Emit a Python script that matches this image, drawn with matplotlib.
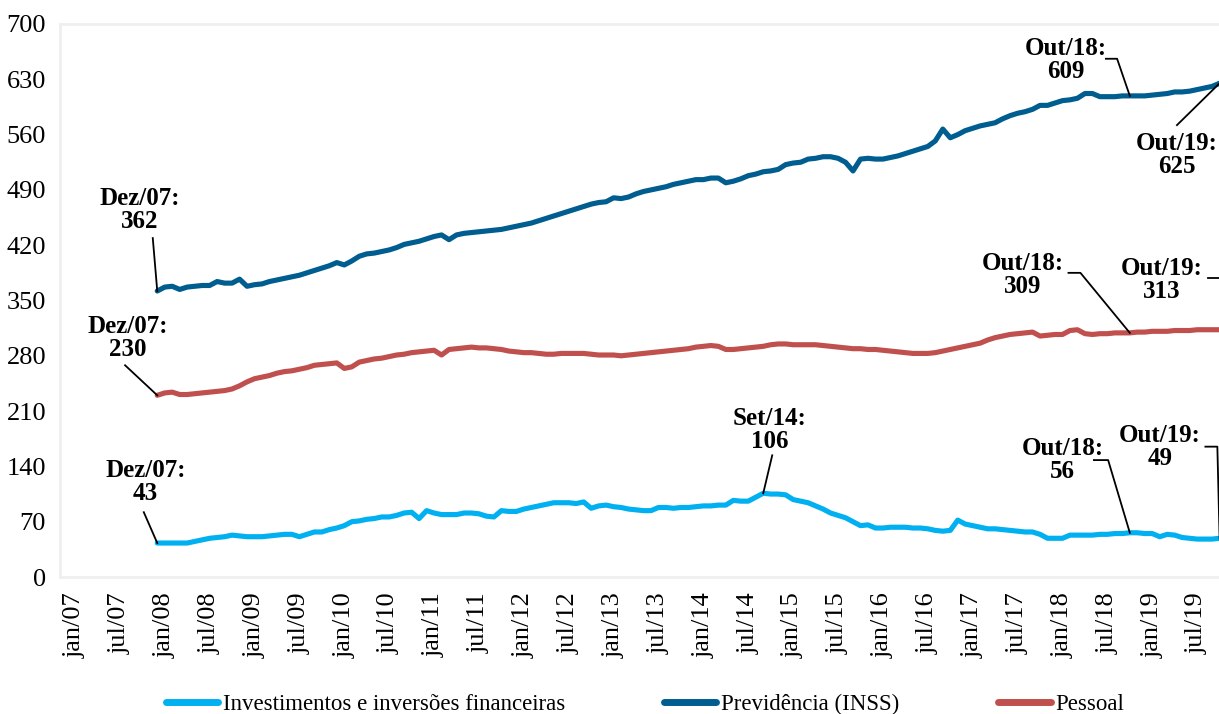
import matplotlib
matplotlib.use("Agg")
import matplotlib.pyplot as plt
import numpy as np

plt.rcParams['font.family'] = ['Liberation Serif', 'DejaVu Serif']

# despesa acumulada em 12 meses, R$ bilhões -- dez/07 a out/19
investimentos = [
    43, 43, 43, 43, 43, 45, 47, 49, 50, 51, 53, 52, 51, 51, 51, 52, 53, 54, 54, 51,
    54, 57, 57, 60, 62, 65, 70, 71, 73, 74, 76, 76, 78, 81, 82, 74, 84, 81, 79, 79,
    79, 81, 81, 80, 77, 76, 84, 83, 83, 86, 88, 90, 92, 94, 94, 94, 93, 95, 87, 90,
    91, 89, 88, 86, 85, 84, 84, 88, 88, 87, 88, 88, 89, 90, 90, 91, 91, 97, 96, 96,
    101, 106, 105, 105, 104, 98, 96, 94, 90, 86, 81, 78, 75, 70, 65, 66, 62, 62, 63, 63,
    63, 62, 62, 61, 59, 58, 59, 72, 67, 65, 63, 61, 61, 60, 59, 58, 57, 57, 54, 49,
    49, 49, 53, 53, 53, 53, 54, 54, 55, 55, 56, 56, 55, 55, 51, 54, 53, 50, 49, 48,
    48, 48, 49,
]
previdencia = [
    362, 367, 368, 364, 367, 368, 369, 369, 374, 372, 372, 377, 368, 370, 371, 374, 376, 378, 380, 382,
    385, 388, 391, 394, 398, 395, 400, 406, 409, 410, 412, 414, 417, 421, 423, 425, 428, 431, 433, 427,
    433, 435, 436, 437, 438, 439, 440, 442, 444, 446, 448, 451, 454, 457, 460, 463, 466, 469, 472, 474,
    475, 480, 479, 481, 485, 488, 490, 492, 494, 497, 499, 501, 503, 503, 505, 505, 499, 501, 504, 508,
    510, 513, 514, 516, 522, 524, 525, 529, 530, 532, 532, 530, 525, 514, 529, 530, 529, 529, 531, 533,
    536, 539, 542, 545, 552, 567, 556, 560, 565, 568, 571, 573, 575, 580, 584, 587, 589, 592, 597, 597,
    600, 603, 604, 606, 612, 612, 608, 608, 608, 609, 609, 609, 609, 610, 611, 612, 614, 614, 615, 617,
    619, 621, 625,
]
pessoal = [
    230, 233, 234, 231, 231, 232, 233, 234, 235, 236, 238, 242, 247, 251, 253, 255, 258, 260, 261, 263,
    265, 268, 269, 270, 271, 264, 266, 272, 274, 276, 277, 279, 281, 282, 284, 285, 286, 287, 281, 288,
    289, 290, 291, 290, 290, 289, 288, 286, 285, 284, 284, 283, 282, 282, 283, 283, 283, 283, 282, 281,
    281, 281, 280, 281, 282, 283, 284, 285, 286, 287, 288, 289, 291, 292, 293, 292, 288, 288, 289, 290,
    291, 292, 294, 295, 295, 294, 294, 294, 294, 293, 292, 291, 290, 289, 289, 288, 288, 287, 286, 285,
    284, 283, 283, 283, 284, 286, 288, 290, 292, 294, 296, 300, 303, 305, 307, 308, 309, 310, 305, 306,
    307, 307, 312, 313, 308, 307, 308, 308, 309, 309, 309, 310, 310, 311, 311, 311, 312, 312, 312, 313,
    313, 313, 313,
]

rotulos_x = [
    "jan/07", "jul/07", "jan/08", "jul/08", "jan/09", "jul/09", "jan/10", "jul/10",
    "jan/11", "jul/11", "jan/12", "jul/12", "jan/13", "jul/13", "jan/14", "jul/14",
    "jan/15", "jul/15", "jan/16", "jul/16", "jan/17", "jul/17", "jan/18", "jul/18",
    "jan/19", "jul/19",
]
rotulos_y = [0, 70, 140, 210, 280, 350, 420, 490, 560, 630, 700]

# meses contados a partir de jan/07 (dez/07 = 11)
meses = np.arange(11, 11 + len(previdencia))

cor_inv = "#00B0F0"
cor_prev = "#005D8F"
cor_pes = "#C0504D"

fig = plt.figure(figsize=(12.19, 7.14), dpi=100)
ax = fig.add_axes([60 / 1219, 137 / 714, 1197 / 1219, 553 / 714])

kw = dict(lw=3.7, solid_capstyle="round", solid_joinstyle="round")
ax.plot(meses, investimentos, color=cor_inv, label="Investimentos e inversões financeiras", **kw)
ax.plot(meses, previdencia, color=cor_prev, label="Previdência (INSS)", **kw)
ax.plot(meses, pessoal, color=cor_pes, label="Pessoal", **kw)

ax.set_xlim(-2, 158)
ax.set_ylim(0, 700)
ax.set_yticks(rotulos_y)
ax.set_xticks(np.arange(0, 6 * len(rotulos_x), 6))
ax.set_xticklabels(rotulos_x, rotation=90, va="top", ha="center")
ax.tick_params(axis="both", length=0, labelsize=19)
ax.tick_params(axis="y", pad=10)
ax.tick_params(axis="x", pad=11)

for lado in ["left", "top", "bottom"]:
    ax.spines[lado].set_color("#EFEFEF")
    ax.spines[lado].set_linewidth(2)
ax.spines["right"].set_visible(False)


def rotulo(serie, idx, texto_xy, caminho):
    # texto em negrito + linha de chamada até o ponto da série
    x = meses[idx]
    y = serie[idx]
    ax.text(texto_xy[0], texto_xy[1], f"{texto_xy[2]}:\n{y}", ha="center", va="center",
            fontsize=18, fontweight="bold", linespacing=1.0, clip_on=False)
    xs = [p[0] for p in caminho] + [x]
    ys = [p[1] for p in caminho] + [y]
    ax.plot(xs, ys, color="black", lw=1.3, clip_on=False, zorder=5)


# dez/07
rotulo(previdencia, 0, (8.7, 465, "Dez/07"), [(10.4, 429)])
rotulo(pessoal, 0, (7.0, 302, "Dez/07"), [(6.7, 268)])
rotulo(investimentos, 0, (9.4, 120, "Dez/07"), [(9.2, 82)])
# set/14
rotulo(investimentos, 81, (92.9, 186, "Set/14"), [(93.2, 154)])
# out/18
rotulo(previdencia, 130, (132.4, 654, "Out/18"), [(137.8, 656), (139.3, 656)])
rotulo(pessoal, 130, (126.7, 382, "Out/18"), [(132.8, 385), (134.4, 385)])
rotulo(investimentos, 130, (132.0, 148, "Out/18"), [(136.2, 148), (138.1, 148)])
# out/19
rotulo(previdencia, 142, (147.3, 534, "Out/19"), [(147.3, 572)])
rotulo(pessoal, 142, (145.3, 376, "Out/19"), [(151.5, 378), (153.0, 378)])
rotulo(investimentos, 142, (145.0, 165, "Out/19"), [(151.1, 165), (152.7, 165)])

leg = fig.legend(loc="center", bbox_to_anchor=(0.529, 0.013), ncol=3, frameon=False,
                 fontsize=16.5, handlelength=2.3, handletextpad=0.2, columnspacing=4.3)
for h in leg.get_lines():
    h.set_linewidth(5)

fig.savefig("out.png", dpi=100)
